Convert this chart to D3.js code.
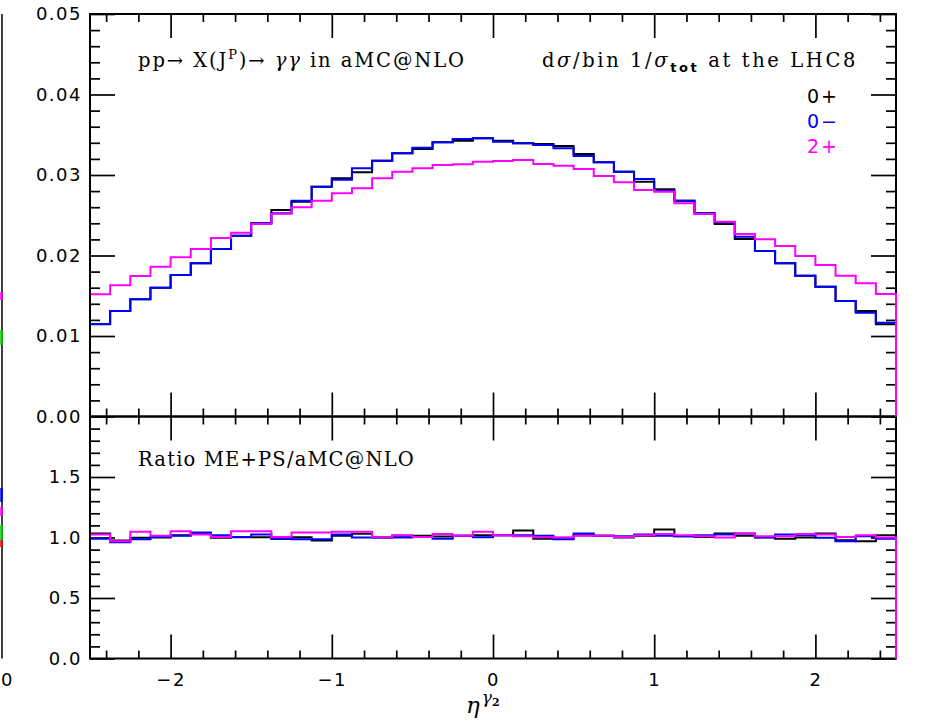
<!DOCTYPE html>
<html>
<head>
<meta charset="utf-8">
<script src="https://cdn.jsdelivr.net/npm/d3@7"></script>
<style>
  html, body { margin: 0; padding: 0; background: #fff; }
  svg { display: block; }
</style>
</head>
<body>
<svg id="chart" width="927" height="727"></svg>
<script>
// ---------------- data ----------------
const etaMin = -2.5, etaMax = 2.5, nBins = 40;
const binEdges = d3.range(nBins + 1).map(i => etaMin + i * (etaMax - etaMin) / nBins);

const seriesNames = ["0+", "0\u2212", "2+"];
const seriesColors = ["#000000", "#0000ff", "#ff00ff"];

const dist0p = [0.01145,0.0131,0.01456,0.0160,0.01758,0.01903,0.0208,0.02246,0.0240,0.02565,
                0.02668,0.02855,0.0296,0.03033,0.03178,0.0327,0.03323,0.03406,0.03426,0.03456,
                0.03426,0.03393,0.03385,0.0336,0.03261,0.03158,0.03041,0.02917,0.02822,0.0268,
                0.02524,0.02391,0.02205,0.02056,0.01903,0.01749,0.01612,0.01435,0.01311,0.01145];
const dist0m = [0.0115,0.0131,0.01456,0.0160,0.01758,0.01903,0.0208,0.02246,0.0240,0.02524,
                0.0268,0.02855,0.0294,0.03083,0.03178,0.0327,0.03339,0.03406,0.03447,0.03456,
                0.03414,0.03393,0.03373,0.03332,0.03236,0.03158,0.03041,0.0295,0.02805,0.0268,
                0.02524,0.02412,0.02234,0.02056,0.01903,0.01749,0.01612,0.01435,0.0129,0.01165];
const dist2p = [0.01518,0.0163,0.01745,0.0186,0.01977,0.0208,0.02217,0.02283,0.0239,0.0252,
                0.0260,0.0268,0.02772,0.02835,0.02959,0.03041,0.03083,0.03124,0.03133,0.03166,
                0.03174,0.03186,0.03137,0.03116,0.03075,0.02988,0.02909,0.02814,0.02793,0.02648,
                0.02516,0.0242,0.02267,0.02201,0.02118,0.01994,0.01882,0.01749,0.01655,0.01522];

const ratio0p = [1.033,0.975,0.997,1.0,1.019,1.03,0.997,1.003,1.003,0.99,
                 1.003,0.975,1.014,1.03,1.0,1.014,1.014,1.008,1.014,1.019,
                 1.019,1.058,0.99,0.997,1.019,1.014,1.0,1.014,1.066,1.011,
                 1.005,1.033,1.014,1.0,0.99,1.0,1.033,0.978,0.97,1.019];
const ratio0m = [0.99,0.96,0.986,1.005,1.014,1.041,1.019,1.005,1.025,0.99,
                 0.986,0.986,1.025,1.0,1.0,1.0,1.005,0.99,1.014,1.003,
                 1.019,1.019,1.014,0.986,1.033,1.014,1.011,1.025,1.014,1.011,
                 1.019,1.025,1.033,1.003,1.025,1.019,0.997,0.97,1.011,0.99];
const ratio2p = [1.025,0.97,1.047,1.014,1.052,1.025,1.005,1.052,1.052,1.005,
                 1.041,1.041,1.047,1.047,1.003,1.019,1.005,1.028,1.014,1.047,
                 1.019,1.011,1.003,1.0,1.014,1.014,1.005,1.019,1.028,1.019,
                 1.011,1.0,1.033,1.011,1.011,1.028,1.025,1.005,1.019,1.0];

const xMajorTicks = [-2, -1, 0, 1, 2];
const yUpperTicks = [0, 0.01, 0.02, 0.03, 0.04, 0.05];
const yLowerTicks = [0, 0.5, 1.0, 1.5];

// ---------------- layout ----------------
const L = 90, R = 896, T = 14, M = 416.5, B = 658.5;
const svg = d3.select("#chart");

const x = d3.scaleLinear().domain([etaMin, etaMax]).range([L, R]);
const yU = d3.scaleLinear().domain([0, 0.05]).range([M, T]);
const yL = d3.scaleLinear().domain([0, 2]).range([B, M]);

const xMinor = d3.range(-12, 13).map(i => i * 0.2).filter(v => Math.abs(v - Math.round(v)) > 1e-6);
const yUMinor = d3.range(0, 26).map(i => i * 0.002).filter(v => Math.abs(v * 100 - Math.round(v * 100)) > 1e-6);
const yLMinor = d3.range(0, 21).map(i => i * 0.1).filter(v => Math.abs(v * 2 - Math.round(v * 2)) > 1e-6);

const tickFont = "'DejaVu Sans', sans-serif";
const serif = "'DejaVu Serif', serif";

function styleAxis(g, withText) {
  g.select(".domain").remove();
  g.selectAll(".tick line").attr("stroke", "#000").attr("stroke-width", 1.7);
  g.selectAll(".tick text")
    .attr("fill", "#000")
    .style("font-family", tickFont)
    .style("font-size", "18px")
    .style("letter-spacing", "1.5px");
  if (!withText) g.selectAll(".tick text").remove();
}

// upper panel axes
svg.append("g").attr("transform", `translate(${L},0)`)
  .call(d3.axisLeft(yU).tickValues(yUpperTicks).tickSize(-25).tickPadding(8).tickFormat(d3.format(".2f")))
  .call(g => styleAxis(g, true));
svg.append("g").attr("transform", `translate(${L},0)`)
  .call(d3.axisLeft(yU).tickValues(yUMinor).tickSize(-10).tickFormat(""))
  .call(g => styleAxis(g, false));
svg.append("g").attr("transform", `translate(${R},0)`)
  .call(d3.axisRight(yU).tickValues(yUpperTicks).tickSize(-25).tickFormat(""))
  .call(g => styleAxis(g, false));
svg.append("g").attr("transform", `translate(${R},0)`)
  .call(d3.axisRight(yU).tickValues(yUMinor).tickSize(-10).tickFormat(""))
  .call(g => styleAxis(g, false));
svg.append("g").attr("transform", `translate(0,${T})`)
  .call(d3.axisTop(x).tickValues(xMajorTicks).tickSize(-24).tickFormat(""))
  .call(g => styleAxis(g, false));
svg.append("g").attr("transform", `translate(0,${T})`)
  .call(d3.axisTop(x).tickValues(xMinor).tickSize(-8).tickFormat(""))
  .call(g => styleAxis(g, false));
svg.append("g").attr("transform", `translate(0,${M})`)
  .call(d3.axisBottom(x).tickValues(xMajorTicks).tickSize(-24).tickFormat(""))
  .call(g => styleAxis(g, false));
svg.append("g").attr("transform", `translate(0,${M})`)
  .call(d3.axisBottom(x).tickValues(xMinor).tickSize(-8).tickFormat(""))
  .call(g => styleAxis(g, false));

// lower panel axes
svg.append("g").attr("transform", `translate(${L},0)`)
  .call(d3.axisLeft(yL).tickValues(yLowerTicks).tickSize(-25).tickPadding(8).tickFormat(d3.format(".1f")))
  .call(g => styleAxis(g, true));
svg.append("g").attr("transform", `translate(${L},0)`)
  .call(d3.axisLeft(yL).tickValues(yLMinor).tickSize(-10).tickFormat(""))
  .call(g => styleAxis(g, false));
svg.append("g").attr("transform", `translate(${R},0)`)
  .call(d3.axisRight(yL).tickValues(yLowerTicks).tickSize(-25).tickFormat(""))
  .call(g => styleAxis(g, false));
svg.append("g").attr("transform", `translate(${R},0)`)
  .call(d3.axisRight(yL).tickValues(yLMinor).tickSize(-10).tickFormat(""))
  .call(g => styleAxis(g, false));
svg.append("g").attr("transform", `translate(0,${M})`)
  .call(d3.axisTop(x).tickValues(xMajorTicks).tickSize(-24).tickFormat(""))
  .call(g => styleAxis(g, false));
svg.append("g").attr("transform", `translate(0,${M})`)
  .call(d3.axisTop(x).tickValues(xMinor).tickSize(-8).tickFormat(""))
  .call(g => styleAxis(g, false));
svg.append("g").attr("transform", `translate(0,${B})`)
  .call(d3.axisBottom(x).tickValues(xMajorTicks).tickSize(-24).tickPadding(15).tickFormat(d3.format("d")))
  .call(g => styleAxis(g, true));
svg.append("g").attr("transform", `translate(0,${B})`)
  .call(d3.axisBottom(x).tickValues(xMinor).tickSize(-8).tickFormat(""))
  .call(g => styleAxis(g, false));

// frames (drawn before the histograms, which overdraw the right edge)
svg.append("rect").attr("x", L).attr("y", T).attr("width", R - L).attr("height", M - T)
  .attr("fill", "none").attr("stroke", "#000").attr("stroke-width", 2);
svg.append("rect").attr("x", L).attr("y", M).attr("width", R - L).attr("height", B - M)
  .attr("fill", "none").attr("stroke", "#000").attr("stroke-width", 2);

// ---------------- histograms ----------------
function stepPath(vals, yScale) {
  const p = d3.path();
  vals.forEach((v, i) => {
    if (i === 0) p.moveTo(x(binEdges[0]) + 1, yScale(v));
    else p.lineTo(x(binEdges[i]), yScale(v));
    p.lineTo(x(binEdges[i + 1]), yScale(v));
  });
  p.lineTo(x(binEdges[nBins]), yScale(0));
  return p.toString();
}

const upperSeries = [dist0p, dist0m, dist2p];
const lowerSeries = [ratio0p, ratio0m, ratio2p];
upperSeries.forEach((s, k) => {
  svg.append("path").attr("d", stepPath(s, yU))
    .attr("fill", "none").attr("stroke", seriesColors[k]).attr("stroke-width", 2)
    .attr("stroke-linejoin", "miter");
});
lowerSeries.forEach((s, k) => {
  svg.append("path").attr("d", stepPath(s, yL))
    .attr("fill", "none").attr("stroke", seriesColors[k]).attr("stroke-width", 2)
    .attr("stroke-linejoin", "miter");
});

// ---------------- texts ----------------
function fitWidth(sel, target) {
  const node = sel.node();
  const len = node.getComputedTextLength();
  const n = node.textContent.length;
  sel.style("letter-spacing", ((target - len) / n) + "px");
}

const t1 = svg.append("text").attr("x", 138).attr("y", 67)
  .style("font-family", serif).style("font-size", "19.5px").attr("fill", "#000");
t1.append("tspan").text("pp\u2192 X(J");
t1.append("tspan").attr("dy", -8).style("font-size", "13px").text("P");
t1.append("tspan").attr("dy", 8).text(")\u2192 ");
t1.append("tspan").style("font-style", "italic").text("\u03b3\u03b3");
t1.append("tspan").text(" in aMC@NLO");
fitWidth(t1, 328);

const t2 = svg.append("text").attr("x", 542).attr("y", 67)
  .style("font-family", serif).style("font-size", "19.5px").attr("fill", "#000");
t2.append("tspan").text("d");
t2.append("tspan").style("font-style", "italic").text("\u03c3");
t2.append("tspan").text("/bin 1/");
t2.append("tspan").style("font-style", "italic").text("\u03c3");
t2.append("tspan").attr("dy", 5).style("font-size", "13px").style("font-weight", "bold")
  .style("font-family", tickFont).text("tot");
t2.append("tspan").attr("dy", -5).text(" at the LHC8");
fitWidth(t2, 316);

const t3 = svg.append("text").attr("x", 138).attr("y", 466)
  .style("font-family", serif).style("font-size", "19.5px").attr("fill", "#000")
  .text("Ratio ME+PS/aMC@NLO");
fitWidth(t3, 277);

// legend
seriesNames.forEach((name, k) => {
  svg.append("text").attr("x", 807).attr("y", 103 + 25 * k)
    .style("font-family", tickFont).style("font-size", "19px").style("letter-spacing", "2px")
    .attr("fill", seriesColors[k]).text(name);
});

// x-axis title
const xt = svg.append("text").attr("x", 466).attr("y", 713)
  .style("font-family", serif).attr("fill", "#000");
xt.append("tspan").style("font-style", "italic").style("font-size", "23px").text("\u03b7");
xt.append("tspan").attr("dy", -10).attr("dx", 2).style("font-style", "italic").style("font-size", "17px").text("\u03b3");
xt.append("tspan").attr("dy", 3).style("font-size", "11px").style("font-weight", "bold").text("2");

// fragment of neighbouring plot at the left edge
svg.append("line").attr("x1", 2).attr("x2", 2).attr("y1", T).attr("y2", B)
  .attr("stroke", "#000").attr("stroke-width", 1.5);
[[488, 502, "#0000ff"], [507, 516, "#ff00ff"], [525, 540, "#00cc00"], [540, 547, "#ff0000"],
 [292, 300, "#ff00ff"], [330, 345, "#00cc00"]].forEach(d => {
  svg.append("line").attr("x1", 1.5).attr("x2", 1.5).attr("y1", d[0]).attr("y2", d[1])
    .attr("stroke", d[2]).attr("stroke-width", 2.5);
});
svg.append("text").attr("x", 1).attr("y", 686)
  .style("font-family", tickFont).style("font-size", "18px").text("0");
</script>
</body>
</html>
